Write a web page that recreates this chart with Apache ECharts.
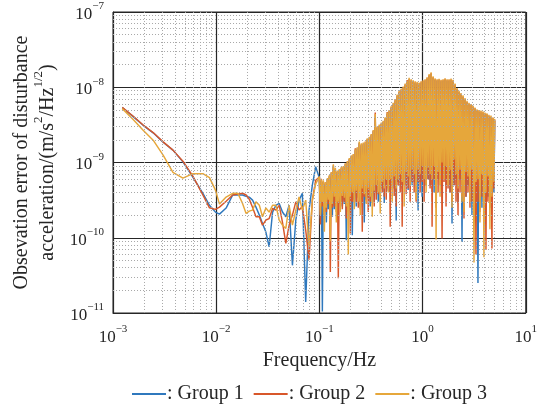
<!DOCTYPE html>
<html>
<head>
<meta charset="utf-8">
<script src="https://cdn.jsdelivr.net/npm/echarts@6/dist/echarts.min.js"></script>
<style>
  html, body { margin: 0; padding: 0; background: #ffffff; }
  #chart { width: 540px; height: 409px; }
</style>
</head>
<body>
<div id="chart"></div>
<script>
// Amplitude spectral density of the disturbance-acceleration observation error.
// Values are stored in units of 1e-10 m/s^2/Hz^(1/2).
const UNIT = 1e-10;

// Frequency grid shared by all three groups (Hz): low band, then 0.1–5 Hz band
const freqLow = [
  0.00123, 0.00156, 0.00196, 0.00245, 0.00306, 0.00381, 0.00476, 0.00594, 0.00743, 0.00861,
  0.00984, 0.01076, 0.01248, 0.01445, 0.0162, 0.0180, 0.0195, 0.0209, 0.0225, 0.0243,
  0.0262, 0.0281, 0.0303, 0.0326, 0.0352, 0.0379, 0.0408, 0.0439, 0.0473, 0.0509,
  0.0548, 0.0591, 0.0636, 0.0684, 0.0737, 0.0794, 0.0855, 0.0921
];
const freqHigh = [
  0.1000, 0.1023, 0.1046, 0.1069, 0.1093, 0.1118, 0.1143, 0.1169, 0.1195, 0.1222,
  0.1249, 0.1277, 0.1306, 0.1336, 0.1366, 0.1396, 0.1428, 0.1460, 0.1493, 0.1526,
  0.1561, 0.1596, 0.1632, 0.1669, 0.1706, 0.1745, 0.1784, 0.1824, 0.1865, 0.1907,
  0.1950, 0.1994, 0.2039, 0.2085, 0.2132, 0.2180, 0.2229, 0.2279, 0.2330, 0.2383,
  0.2436, 0.2491, 0.2547, 0.2605, 0.2663, 0.2723, 0.2785, 0.2847, 0.2911, 0.2977,
  0.3044, 0.3112, 0.3182, 0.3254, 0.3327, 0.3402, 0.3479, 0.3557, 0.3637, 0.3719,
  0.3803, 0.3888, 0.3976, 0.4065, 0.4157, 0.4250, 0.4346, 0.4444, 0.4544, 0.4646,
  0.4751, 0.4858, 0.4967, 0.5079, 0.5193, 0.5310, 0.5430, 0.5552, 0.5677, 0.5805,
  0.5935, 0.6069, 0.6205, 0.6345, 0.6488, 0.6634, 0.6783, 0.6936, 0.7092, 0.7251,
  0.7415, 0.7581, 0.7752, 0.7927, 0.8105, 0.8288, 0.8474, 0.8665, 0.8860, 0.9059,
  0.9263, 0.9472, 0.9685, 0.9903, 1.0126, 1.0354, 1.0587, 1.0825, 1.1068, 1.1318,
  1.1572, 1.1833, 1.2099, 1.2371, 1.2650, 1.2934, 1.3225, 1.3523, 1.3827, 1.4138,
  1.4457, 1.4782, 1.5115, 1.5455, 1.5803, 1.6158, 1.6522, 1.6894, 1.7274, 1.7662,
  1.8060, 1.8466, 1.8882, 1.9307, 1.9741, 2.0185, 2.0639, 2.1104, 2.1579, 2.2064,
  2.2561, 2.3069, 2.3588, 2.4118, 2.4661, 2.5216, 2.5783, 2.6363, 2.6957, 2.7563,
  2.8183, 2.8817, 2.9466, 3.0129, 3.0807, 3.1500, 3.2209, 3.2934, 3.3675, 3.4432,
  3.5207, 3.6000, 3.6810, 3.7638, 3.8485, 3.9350, 4.0236, 4.1141, 4.2067, 4.3013,
  4.3981, 4.4971, 4.5983, 4.7017, 4.8075, 4.9157, 5.0000
];

const group1Low = [
  53.6, 41, 31.2, 24.8, 18.6, 14.6, 10.2, 6.4, 3.9, 2.7,
  2.19, 2.06, 2.48, 3.7, 3.7, 3.7, 3.55, 3.47, 3.16, 2.55,
  2.0, 1.55, 1.19, 0.76, 2.19, 2.7, 2.86, 2.2, 1.9, 2.7,
  0.43, 1.72, 3.16, 3.9, 0.14, 2.33, 5.0, 8.8
];
const group1High = [
  6.2, 1.8, 5.7, 0.105, 5.5, 2.2, 5.2, 1.6, 5.9, 2.4,
  6.5, 2.2, 7.2, 1.9, 9.0, 2.4, 8.0, 2.6, 7.5, 2.0,
  7.8, 3.0, 8.4, 2.6, 8.6, 2.8, 9.4, 0.93, 10, 2.6,
  11, 2.8, 12, 1.08, 12.5, 3.2, 14.5, 2.6, 15.5, 3.4,
  18, 2.6, 17, 3.8, 17.5, 1.6, 18, 3.2, 20, 3.4,
  21, 2.6, 23, 3.0, 26, 3.0, 40, 4.0, 28.5, 3.0,
  30.5, 3.0, 32.5, 4.5, 34.5, 2.9, 38, 5.0, 44, 4.2,
  47.5, 4.0, 53, 5.0, 59, 4.5, 66, 1.7, 76, 5.5,
  86, 5.0, 91, 4.5, 97, 6.0, 106, 5.0, 116, 4.3,
  127, 6.0, 122, 5.0, 118, 5.5, 114, 6.0, 112, 2.3,
  110, 5.5, 114, 3.5, 118, 6.0, 122, 5.0, 129, 6.0,
  142, 5.0, 150, 7.0, 133, 4.0, 125, 5.0, 122, 6.0,
  124, 6.0, 120, 4.5, 122, 7.0, 126, 5.0, 122, 6.5,
  122, 4.0, 124, 1.55, 120, 5.0, 106, 6.0, 93, 2.9,
  86, 6.0, 80, 0.88, 74, 4.0, 68, 3.5, 63, 5.0,
  59, 5.0, 57, 2.0, 54, 4.0, 51, 3.0, 49, 0.25,
  47, 3.0, 46, 2.5, 45, 3.0, 44, 2.0, 43, 3.5,
  41, 2.5, 40, 3.0, 38, 4.0, 36
];

const group2Low = [
  54, 41.5, 31.5, 25, 18.8, 14.6, 10.4, 6.6, 3.7, 2.5,
  2.38, 2.55, 3.06, 3.7, 3.8, 3.9, 3.7, 3.26, 2.55, 1.9,
  1.9, 1.47, 1.72, 1.8, 2.45, 2.33, 2.7, 1.6, 0.84, 1.47,
  2.0, 3.0, 2.33, 2.6, 1.26, 0.51, 3.16, 5.8
];
const group2High = [
  6.4, 1.5, 6.1, 2.6, 5.6, 1.9, 5.4, 2.2, 6.0, 2.8,
  6.6, 0.35, 7.4, 2.5, 9.2, 2.6, 8.3, 2.2, 7.6, 0.29,
  8.0, 2.8, 8.6, 2.4, 8.8, 3.0, 9.6, 1.8, 10.2, 2.2,
  11.2, 1.14, 12.2, 3.0, 12.8, 2.9, 15.5, 3.0, 15.5, 2.5,
  18.5, 2.4, 17.5, 1.2, 18, 3.5, 18.8, 3.0, 20.5, 2.2,
  21.5, 3.0, 23.5, 3.5, 26.5, 2.6, 46, 3.2, 29.5, 3.8,
  31, 3.8, 33, 4.0, 35, 3.5, 39, 3.2, 47, 4.5,
  49, 1.4, 55, 4.5, 61, 3.6, 69, 2.6, 78, 5.0,
  88, 4.0, 94, 1.4, 100, 5.0, 110, 3.8, 125, 4.5,
  130, 3.0, 126, 5.5, 122, 4.0, 118, 3.0, 116, 5.5,
  114, 4.0, 118, 5.5, 122, 3.0, 126, 5.0, 134, 6.0,
  146, 4.5, 155, 1.4, 137, 6.0, 129, 2.5, 126, 4.0,
  128, 5.0, 124, 0.98, 126, 5.5, 130, 2.6, 126, 4.5,
  126, 4.0, 128, 3.0, 124, 5.0, 110, 3.0, 96, 2.0,
  88, 4.0, 82, 3.5, 76, 1.8, 70, 3.5, 64, 4.0,
  61, 2.5, 59, 3.0, 56, 4.0, 53, 0.6, 50, 3.0,
  49, 2.2, 48, 3.5, 47, 2.0, 45, 0.69, 44, 3.0,
  42, 2.8, 41, 0.72, 39, 4.5, 37
];

const group3Low = [
  52, 37.6, 26.8, 19.8, 12.5, 7.4, 6.2, 7.1, 7.1, 6.3,
  4.3, 2.8, 3.47, 3.9, 3.9, 2.86, 2.1, 2.26, 2.33, 3.0,
  2.7, 1.9, 2.48, 2.19, 2.7, 2.7, 1.72, 1.47, 1.33, 2.7,
  1.47, 2.33, 3.5, 2.33, 3.16, 0.76, 3.16, 5.2
];
const group3High = [
  6.5, 2.0, 6.0, 3.0, 5.8, 1.2, 5.5, 2.5, 6.2, 3.2,
  6.8, 0.9, 7.5, 2.8, 9.5, 3.5, 8.5, 1.6, 7.8, 3.0,
  8.2, 2.2, 8.8, 3.6, 9.0, 3.4, 9.8, 2.6, 10.5, 0.6,
  11.5, 3.5, 12.5, 4.0, 13, 2.4, 15, 4.2, 16, 3.0,
  19, 2.0, 18, 4.5, 18.5, 3.8, 19, 2.8, 21, 4.5,
  22, 3.5, 24, 1.9, 27, 4.2, 44, 5.0, 30, 4.0,
  32, 2.1, 34, 5.5, 36, 4.5, 40, 6.0, 46, 4.0,
  50, 6.0, 56, 3.0, 62, 6.5, 70, 4.5, 80, 6.0,
  90, 7.0, 96, 5.5, 102, 2.6, 112, 7.5, 122, 6.5,
  134, 5.0, 128, 8.0, 124, 7.0, 120, 3.2, 118, 8.0,
  116, 7.0, 120, 9.0, 124, 6.0, 128, 4.0, 136, 8.5,
  150, 7.0, 158, 6.0, 140, 9.0, 132, 0.95, 128, 7.5,
  130, 3.5, 126, 10, 128, 6.0, 132, 9.0, 128, 5.0,
  128, 8.0, 131, 2.5, 126, 11, 112, 7.0, 98, 4.5,
  90, 8.0, 84, 3.0, 78, 2.2, 72, 7.5, 66, 6.5,
  62, 3.0, 60, 8.0, 57, 0.47, 54, 5.5, 51, 6.0,
  50, 1.6, 49, 7.0, 48, 0.55, 46, 4.0, 45, 6.5,
  43, 1.3, 42, 3.5, 40, 5.5, 38
];

const seriesNames = ['Group 1', 'Group 2', 'Group 3'];
const freq = freqLow.concat(freqHigh);
const seriesValues = [
  group1Low.concat(group1High),
  group2Low.concat(group2High),
  group3Low.concat(group3High)
];
const seriesColors = ['#2f78bd', '#d8572a', '#e6a73b'];

const SERIF = "'Liberation Serif', 'DejaVu Serif', serif";
const INK = '#262626';

const X_MIN = 1e-3, X_MAX = 10, Y_MIN = 1e-11, Y_MAX = 1e-7;

// Minor log grid positions (2..9 within each decade)
function minorPositions(fromExp, toExp) {
  const out = [];
  for (let e = fromExp; e < toExp; e++) {
    for (let m = 2; m <= 9; m++) out.push(m * Math.pow(10, e));
  }
  return out;
}
const minorX = minorPositions(-3, 1);
const minorY = minorPositions(-11, -7);

function powerLabel(v) {
  const e = Math.round(Math.log10(v));
  return '{b|10}{s|' + (e < 0 ? '\u2212' + (-e) : String(e)) + '}';
}

const tickRich = {
  b: { fontSize: 17, fontFamily: SERIF, color: INK, lineHeight: 22, verticalAlign: 'bottom' },
  s: { fontSize: 11, fontFamily: SERIF, color: INK, lineHeight: 10, verticalAlign: 'top' }
};

const chart = echarts.init(document.getElementById('chart'), null, { renderer: 'canvas' });

const dotted = { color: '#a8a8a8', width: 1, type: [1, 2] };
const xIn = [X_MIN * 1.0005, X_MAX * 0.9995];
const yIn = [Y_MIN * 1.0005, Y_MAX * 0.9995];

function gridLines(name, lines) {
  return {
    name: name,
    type: 'line',
    data: [],
    silent: true,
    z: 1,
    markLine: {
      silent: true,
      symbol: ['none', 'none'],
      label: { show: false },
      lineStyle: dotted,
      emphasis: { disabled: true },
      animation: false,
      data: lines
    }
  };
}

const series = [
  gridLines('minor-x', minorX.map(v => [{ coord: [v, yIn[0]] }, { coord: [v, yIn[1]] }])),
  gridLines('minor-y', minorY.map(v => [{ coord: [xIn[0], v] }, { coord: [xIn[1], v] }]))
].concat(seriesNames.map((name, k) => ({
  name: name,
  type: 'line',
  z: 3,
  showSymbol: false,
  symbol: 'none',
  data: freq.map((f, i) => [f, seriesValues[k][i] * UNIT]),
  lineStyle: { color: seriesColors[k], width: 1.45 },
  itemStyle: { color: seriesColors[k] },
  emphasis: { disabled: true },
  clip: true
})));

chart.setOption({
  animation: false,
  backgroundColor: '#ffffff',
  grid: {
    left: 113, right: 12, top: 12, bottom: 96,
    show: true, borderColor: INK, borderWidth: 1, backgroundColor: 'transparent'
  },
  xAxis: {
    type: 'log',
    logBase: 10,
    min: X_MIN,
    max: X_MAX,
    name: 'Frequency/Hz',
    nameLocation: 'middle',
    nameGap: 33,
    nameTextStyle: { fontSize: 20, fontFamily: SERIF, color: INK },
    axisLine: { show: true, lineStyle: { color: INK, width: 1 } },
    axisTick: { show: false },
    minorTick: { show: false },
    splitLine: { show: true, lineStyle: { color: INK, width: 1.2 } },
    axisLabel: { margin: 11, formatter: powerLabel, rich: tickRich }
  },
  yAxis: {
    type: 'log',
    logBase: 10,
    min: Y_MIN,
    max: Y_MAX,
    name: '{t|Obsevation error of disturbance}\n{t|acceleration/(m/s}{u|2}{t|/Hz}{u|1/2}{t|)}',
    nameLocation: 'middle',
    nameRotate: 90,
    nameGap: 55,
    nameTextStyle: {
      fontSize: 20, fontFamily: SERIF, color: INK,
      rich: {
        t: { fontSize: 20, fontFamily: SERIF, color: INK, lineHeight: 26, verticalAlign: 'bottom' },
        u: { fontSize: 13, fontFamily: SERIF, color: INK, lineHeight: 12, verticalAlign: 'top' }
      }
    },
    axisLine: { show: true, lineStyle: { color: INK, width: 1 } },
    axisTick: { show: false },
    minorTick: { show: false },
    splitLine: { show: true, lineStyle: { color: INK, width: 1.2 } },
    axisLabel: { margin: 9, formatter: powerLabel, rich: tickRich }
  },
  legend: {
    data: seriesNames,
    left: 132,
    top: 384,
    padding: 0,
    icon: 'rect',
    itemWidth: 34,
    itemHeight: 2,
    itemGap: 10,
    formatter: ': {name}',
    textStyle: { fontSize: 20, fontFamily: SERIF, color: INK, padding: [0, 0, 0, -4] }
  },
  series: series
});
</script>
</body>
</html>
